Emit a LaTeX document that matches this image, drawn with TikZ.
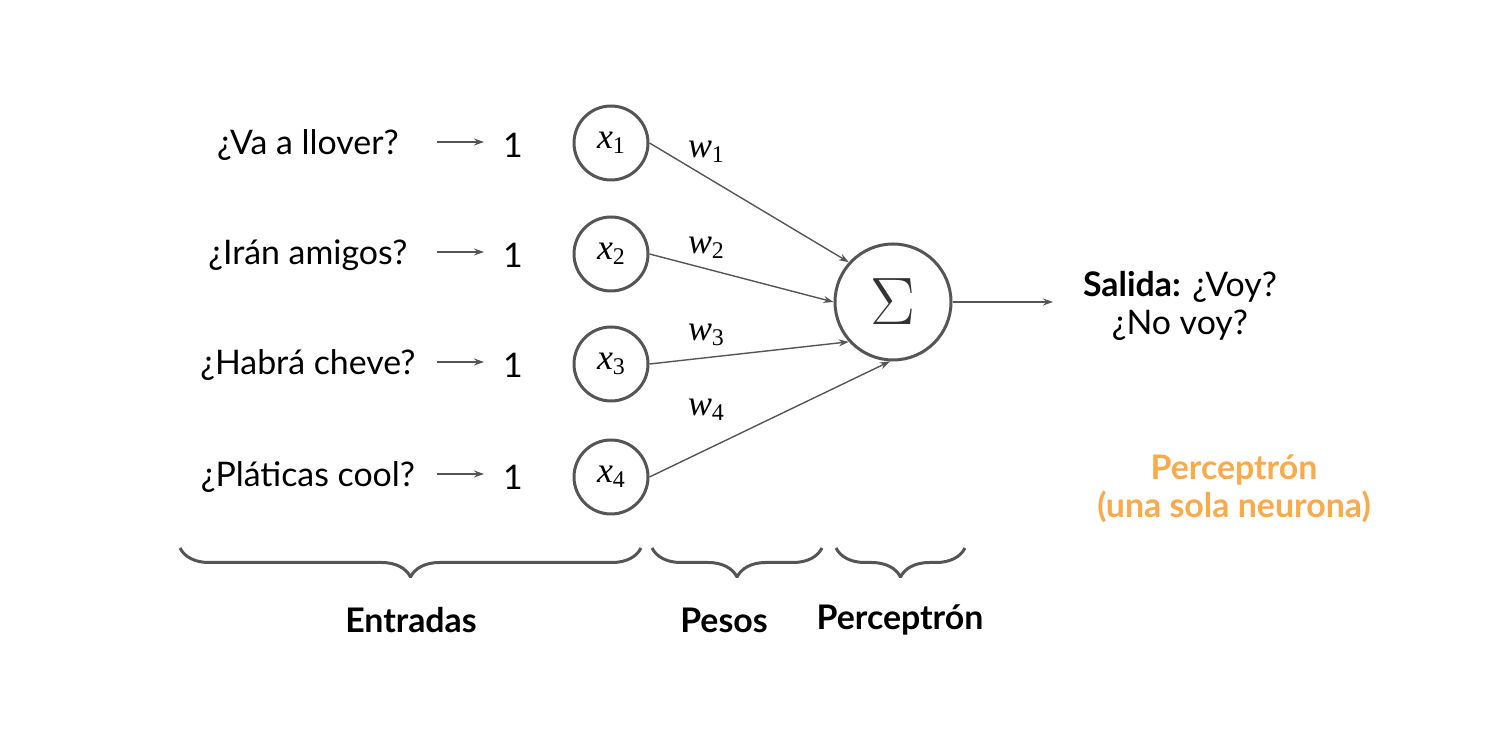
\documentclass[tikz,border=0pt]{standalone}
\usepackage{amsmath}
\usepackage[no-math]{fontspec}
\setmainfont{Lato}
\newfontfamily\serifm{Liberation Serif}
\usepackage{tikz}
\usetikzlibrary{arrows.meta}
\usetikzlibrary{decorations.pathreplacing}
\definecolor{linegray}{HTML}{555555}
\definecolor{sigmagray}{HTML}{333333}
\definecolor{orangetxt}{HTML}{FBAA4A}
\newcommand{\vlab}[2]{{\serifm\itshape #1}\raisebox{-2.5bp}{\fontsize{12}{14}\selectfont\serifm #2}}
\tikzset{
  question/.style={draw=none,font=\fontsize{17}{19}\selectfont},
  xnode/.style={draw=linegray,line width=1.5bp,circle,minimum size=37bp,inner sep=0pt,font=\fontsize{18}{20}\selectfont},
  wlabel/.style={draw=none,font=\fontsize{18}{20}\selectfont},
  bracelabel/.style={draw=none,font=\fontsize{17}{19}\selectfont\bfseries},
  bracepath/.style={draw=linegray,line width=1.5bp,decorate,decoration={brace,mirror,amplitude=14.5bp}},
}
\begin{document}
\begin{tikzpicture}[>={Stealth[length=5bp,width=3.5bp]},line join=bevel,]
\useasboundingbox (0bp,0bp) rectangle (750bp,372.5bp);
%%
\node (q_1) at (154bp,300bp) [question] {¿Va a llover?};
  \node (q_2) at (154bp,245bp) [question] {¿Irán amigos?};
  \node (q_3) at (154bp,190bp) [question] {¿Habrá cheve?};
  \node (q_4) at (154bp,134bp) [question] {¿Pláticas cool?};
  \node (n_1) at (256.5bp,300bp) [question] {1};
  \node (n_2) at (256.5bp,245bp) [question] {1};
  \node (n_3) at (256.5bp,190bp) [question] {1};
  \node (n_4) at (256.5bp,134bp) [question] {1};
  \coordinate (s_1) at (218.5bp,301.5bp);
  \coordinate (s_2) at (218.5bp,246.5bp);
  \coordinate (s_3) at (218.5bp,191.5bp);
  \coordinate (s_4) at (218.5bp,135.5bp);
  \coordinate (e_1) at (242bp,301.5bp);
  \coordinate (e_2) at (242bp,246.5bp);
  \coordinate (e_3) at (242bp,191.5bp);
  \coordinate (e_4) at (242bp,135.5bp);
  \node (x_1) at (305.5bp,301bp) [xnode] {\vlab{x}{1}};
  \node (x_2) at (305.5bp,245.5bp) [xnode] {\vlab{x}{2}};
  \node (x_3) at (305.5bp,190.5bp) [xnode] {\vlab{x}{3}};
  \node (x_4) at (305.5bp,134bp) [xnode] {\vlab{x}{4}};
  \node (node_sum) at (446.5bp,221.5bp) [xnode,minimum size=58bp,text=sigmagray] {\fontsize{17}{19}\selectfont\scalebox{1.95}{$\Sigma$}};
  \node (w_1) at (353bp,296.5bp) [wlabel] {\vlab{w}{1}};
  \node (w_2) at (353bp,248.5bp) [wlabel] {\vlab{w}{2}};
  \node (w_3) at (353bp,205bp) [wlabel] {\vlab{w}{3}};
  \node (w_4) at (353bp,167.5bp) [wlabel] {\vlab{w}{4}};
  \coordinate (out) at (526.5bp,221.5bp);
  \node (salida) at (590bp,219.5bp) [question,align=center] {\textbf{Salida:} ¿Voy?\\¿No voy?};
  \node (perc) at (617bp,128bp) [question,align=center,text=orangetxt,font=\fontsize{17}{19}\selectfont\bfseries] {Perceptrón\\(una sola neurona)};
  \draw [linegray,line width=0.6bp,->] (s_1) -- (e_1);
  \draw [linegray,line width=0.6bp,->] (s_2) -- (e_2);
  \draw [linegray,line width=0.6bp,->] (s_3) -- (e_3);
  \draw [linegray,line width=0.6bp,->] (s_4) -- (e_4);
  \draw [linegray,line width=0.7bp,->] (x_1.east) -- (node_sum.138);
  \draw [linegray,line width=0.7bp,->] (x_2.east) -- (node_sum.180);
  \draw [linegray,line width=0.7bp,->] (x_3.east) -- (node_sum.222);
  \draw [linegray,line width=0.7bp,->] (x_4.east) -- (node_sum.267);
  \draw [linegray,line width=0.7bp,->] (node_sum) -- (out);
%
\coordinate (b_1l) at (90bp,98.5bp);
  \coordinate (b_1r) at (320.5bp,98.5bp);
  \coordinate (b_2l) at (326bp,98.5bp);
  \coordinate (b_2r) at (411bp,98.5bp);
  \coordinate (b_3l) at (418bp,98.5bp);
  \coordinate (b_3r) at (482.5bp,98.5bp);
  \draw [bracepath] (b_1l) -- (b_1r);
  \draw [bracepath] (b_2l) -- (b_2r);
  \draw [bracepath] (b_3l) -- (b_3r);
  \node (entradas) at (205.5bp,62.5bp) [bracelabel] {Entradas};
  \node (pesos) at (362bp,62.5bp) [bracelabel] {Pesos};
  \node (perceptron) at (450bp,62.5bp) [bracelabel] {Perceptrón};
%
\end{tikzpicture}
\end{document}
